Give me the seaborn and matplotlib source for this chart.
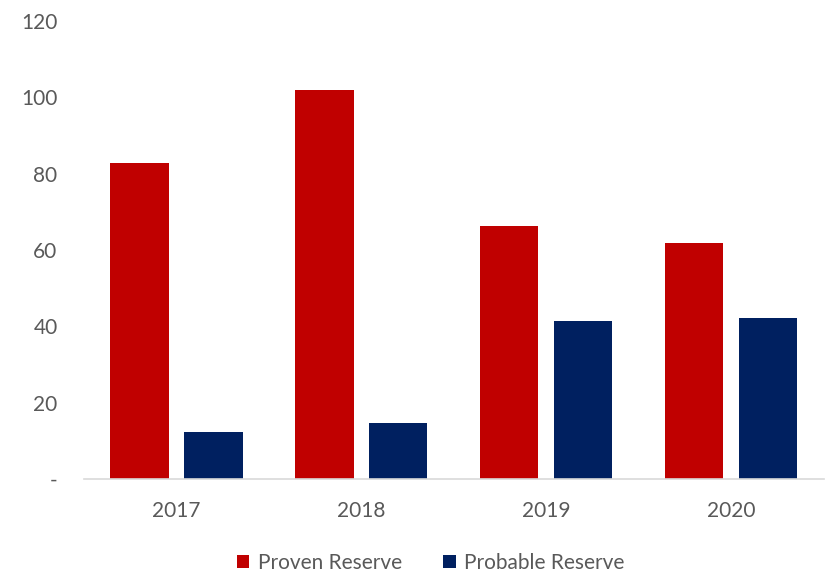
import pandas as pd
import matplotlib
matplotlib.use("Agg")
import matplotlib.pyplot as plt
import seaborn as sns

years = ["2017", "2018", "2019", "2020"]
proven = [82.7, 101.8, 66.2, 61.9]
probable = [12.3, 14.7, 41.4, 42.1]
series_names = ["Proven Reserve", "Probable Reserve"]
colors = ["#C00000", "#002060"]
y_ticks = [0, 20, 40, 60, 80, 100, 120]
y_labels = ["-", "20", "40", "60", "80", "100", "120"]

df = pd.DataFrame({
    "year": years * 2,
    "value": proven + probable,
    "series": [series_names[0]] * len(years) + [series_names[1]] * len(years),
})

sns.set_style("white")
plt.rcParams["font.family"] = ["Lato", "DejaVu Sans"]
text_grey = "#595959"

fig = plt.figure(figsize=(8.35, 5.72), dpi=100)
ax = fig.add_axes([0.1006, 0.1626, 0.8862, 0.8007])

sns.barplot(data=df, x="year", y="value", hue="series", palette=colors,
            width=0.8, gap=0.216, linewidth=0, saturation=1, ax=ax)

ax.set_ylim(0, 120)
ax.set_xlim(-0.5, 3.5)
ax.set_yticks(y_ticks)
ax.set_yticklabels(y_labels)
ax.set_xlabel("")
ax.set_ylabel("")
ax.tick_params(axis="y", length=0, pad=19, labelsize=15, labelcolor=text_grey)
ax.tick_params(axis="x", length=0, pad=16, labelsize=15, labelcolor=text_grey)

for side in ["top", "right", "left"]:
    ax.spines[side].set_visible(False)
ax.spines["bottom"].set_color("#D9D9D9")
ax.spines["bottom"].set_linewidth(1.2)

handles, labels = ax.get_legend_handles_labels()
ax.legend(handles, labels, loc="center", bbox_to_anchor=(0.5159, 0.0157),
          bbox_transform=fig.transFigure, ncol=2, frameon=False,
          fontsize=15, labelcolor=text_grey, handlelength=0.6, handleheight=0.6,
          handletextpad=0.4, columnspacing=2.0)

fig.savefig("out.png", dpi=100)
